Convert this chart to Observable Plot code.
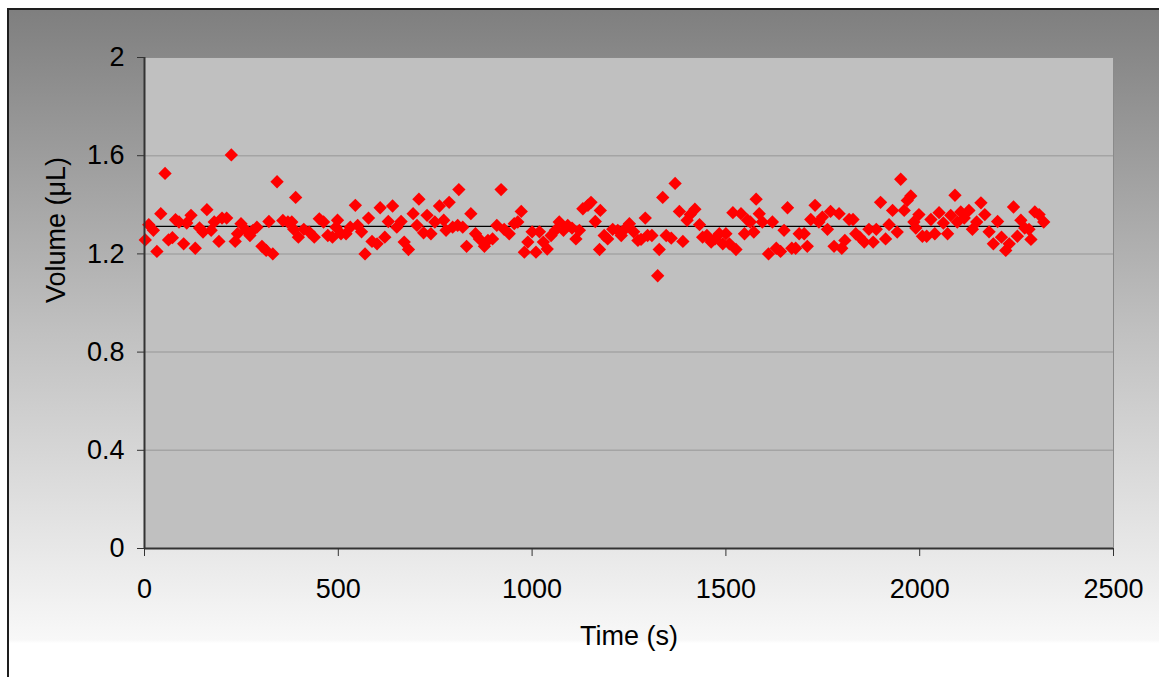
<!DOCTYPE html>
<html><head><meta charset="utf-8">
<script src="https://cdn.jsdelivr.net/npm/d3@7"></script>
<script src="https://cdn.jsdelivr.net/npm/@observablehq/plot@0.6"></script>
<style>
html,body{margin:0;padding:0;background:#fff;width:1159px;height:677px;overflow:hidden}
#bg{position:absolute;left:7px;top:8px;width:1200px;height:720px;border:2px solid #1e1e1e;box-sizing:border-box;
background:linear-gradient(to bottom,#7f7f7f 0px,#c0c0c0 320px,#f8f8f8 630px,#ffffff 633px,#ffffff 100%)}
#chart{position:absolute;left:0;top:0}
</style></head><body><div id="bg"></div><div id="chart"></div>
<script>
const times = [2,11,23,32,42,53,62,72,80,89,101,109,120,131,142,151,161,172,180,192,200,212,224,234,240,249,262,272,280,290,303,314,321,331,342,357,370,380,
385,390,397,411,425,438,451,462,473,485,494,498,507,520,531,544,550,560,569,578,587,600,608,620,629,640,651,662,670,681,693,703,708,720,729,739,749,761,772,778,786,
795,808,811,821,831,842,854,864,877,886,898,909,920,928,941,954,963,972,980,989,1000,1010,1019,1029,1039,1049,1060,1070,1081,1092,1103,1113,1122,1131,1144,1152,1163,1174,1176,1186,
1195,1208,1221,1230,1242,1251,1262,1273,1281,1292,1298,1309,1324,1328,1337,1346,1359,1369,1380,1389,1400,1408,1420,1432,1440,1451,1462,1472,1483,1492,1500,1509,1518,1526,1539,1548,1556,1563,1572,1578,1586,
1594,1610,1620,1630,1641,1650,1659,1670,1680,1689,1702,1710,1719,1730,1740,1749,1762,1770,1779,1792,1799,1807,1818,1828,1835,1845,1857,1869,1880,1888,1899,1912,1921,1930,1942,1951,1960,1968,1977,1985,
1990,1998,2007,2018,2029,2039,2050,2061,2072,2080,2091,2097,2106,2115,2127,2136,2147,2158,2168,2179,2190,2201,2211,2222,2231,2242,2252,2261,2271,2282,2287,2297,2308,2320];
const volumes = [1.257,1.319,1.296,1.21,1.364,1.528,1.257,1.266,1.339,1.33,1.241,1.326,1.357,1.223,1.306,1.289,1.38,1.296,1.33,1.251,1.346,1.346,1.603,1.251,1.282,1.323,1.296,1.275,1.296,1.309,1.231,1.214,1.332,1.2,1.494,1.336,1.33,1.33,
1.30,1.43,1.268,1.30,1.289,1.268,1.343,1.33,1.275,1.268,1.309,1.337,1.282,1.282,1.309,1.398,1.316,1.29,1.2,1.346,1.251,1.241,1.388,1.268,1.332,1.395,1.309,1.332,1.248,1.218,1.364,1.316,1.423,1.286,1.357,1.282,1.33,1.395,1.337,1.296,1.41,
1.309,1.316,1.462,1.309,1.231,1.364,1.282,1.261,1.231,1.255,1.261,1.316,1.462,1.30,1.282,1.323,1.33,1.373,1.207,1.248,1.29,1.207,1.29,1.248,1.22,1.275,1.296,1.33,1.296,1.316,1.305,1.261,1.296,1.384,1.398,1.41,1.332,1.218,1.377,1.275,
1.261,1.30,1.296,1.275,1.305,1.323,1.29,1.255,1.259,1.346,1.275,1.275,1.111,1.218,1.43,1.275,1.264,1.487,1.373,1.251,1.337,1.36,1.382,1.319,1.268,1.275,1.248,1.261,1.282,1.241,1.282,1.241,1.368,1.218,1.364,1.282,1.337,1.33,1.289,1.423,1.364,
1.33,1.2,1.33,1.223,1.21,1.296,1.388,1.223,1.223,1.282,1.282,1.231,1.34,1.398,1.33,1.35,1.30,1.373,1.231,1.364,1.223,1.255,1.34,1.34,1.282,1.268,1.248,1.30,1.248,1.30,1.41,1.261,1.319,1.377,1.289,1.504,1.377,1.418,1.436,1.33,
1.305,1.36,1.272,1.272,1.34,1.282,1.368,1.326,1.282,1.357,1.439,1.33,1.371,1.346,1.377,1.30,1.33,1.408,1.36,1.29,1.241,1.332,1.268,1.214,1.241,1.391,1.272,1.337,1.305,1.30,1.259,1.371,1.36,1.33];
const meanVolume = 1.312;
const meanLineStart = 0;
const meanLineEnd = 2320;
const xTicks = [0,500,1000,1500,2000,2500];
const xTickLabels = ["0","500","1000","1500","2000","2500"];
const yTicks = [0,0.4,0.8,1.2,1.6,2];
const yTickLabels = ["0","0.4","0.8","1.2","1.6","2"];
const gridTicks = [0.4,0.8,1.2,1.6];
const xLabel = "Time (s)";
const yLabel = "Volume (\u03bcL)";

const data = times.map((t,i)=>({t, v: volumes[i]}));
const font = "'Liberation Sans', Arial, sans-serif";

const plot = Plot.plot({
  width: 1159, height: 677,
  marginLeft: 144, marginTop: 57, marginRight: 46, marginBottom: 129,
  style: {background: "transparent", fontFamily: font, fontSize: "27px", color: "#000", overflow: "visible"},
  x: {domain: [0, 2500], label: null},
  y: {domain: [0, 2], label: null},
  marks: [
    Plot.frame({fill: "#c0c0c0", stroke: "#8a8a8a"}),
    Plot.gridY(gridTicks, {stroke: "#a4a4a4", strokeOpacity: 1, strokeWidth: 1.5}),
    Plot.ruleY([meanVolume], {x1: meanLineStart, x2: meanLineEnd, stroke: "#000", strokeWidth: 1.3}),
    Plot.dot(data, {x: "t", y: "v", symbol: "diamond2", r: 6, fill: "#ff0000", stroke: "none"}),
    Plot.ruleX([0], {stroke: "#333", strokeWidth: 2}),
    Plot.ruleY([0], {stroke: "#333", strokeWidth: 2}),
    Plot.axisY(yTicks, {tickSize: 7, tickPadding: 13, stroke: "#333", fill: "#000", fontSize: 27,
      tickFormat: d => yTickLabels[yTicks.indexOf(d)], label: null}),
    Plot.axisX(xTicks, {tickSize: 8, tickPadding: 22, stroke: "#333", fill: "#000", fontSize: 27,
      tickFormat: d => xTickLabels[xTicks.indexOf(d)], label: null}),
    Plot.text([xLabel], {frameAnchor: "bottom", dy: 88, fontSize: 27, fill: "#000", lineAnchor: "middle"}),
    Plot.text([yLabel], {frameAnchor: "left", dx: -88, rotate: -90, fontSize: 27, fill: "#000", lineAnchor: "middle"})
  ]
});
document.getElementById("chart").appendChild(plot);
</script></body></html>
